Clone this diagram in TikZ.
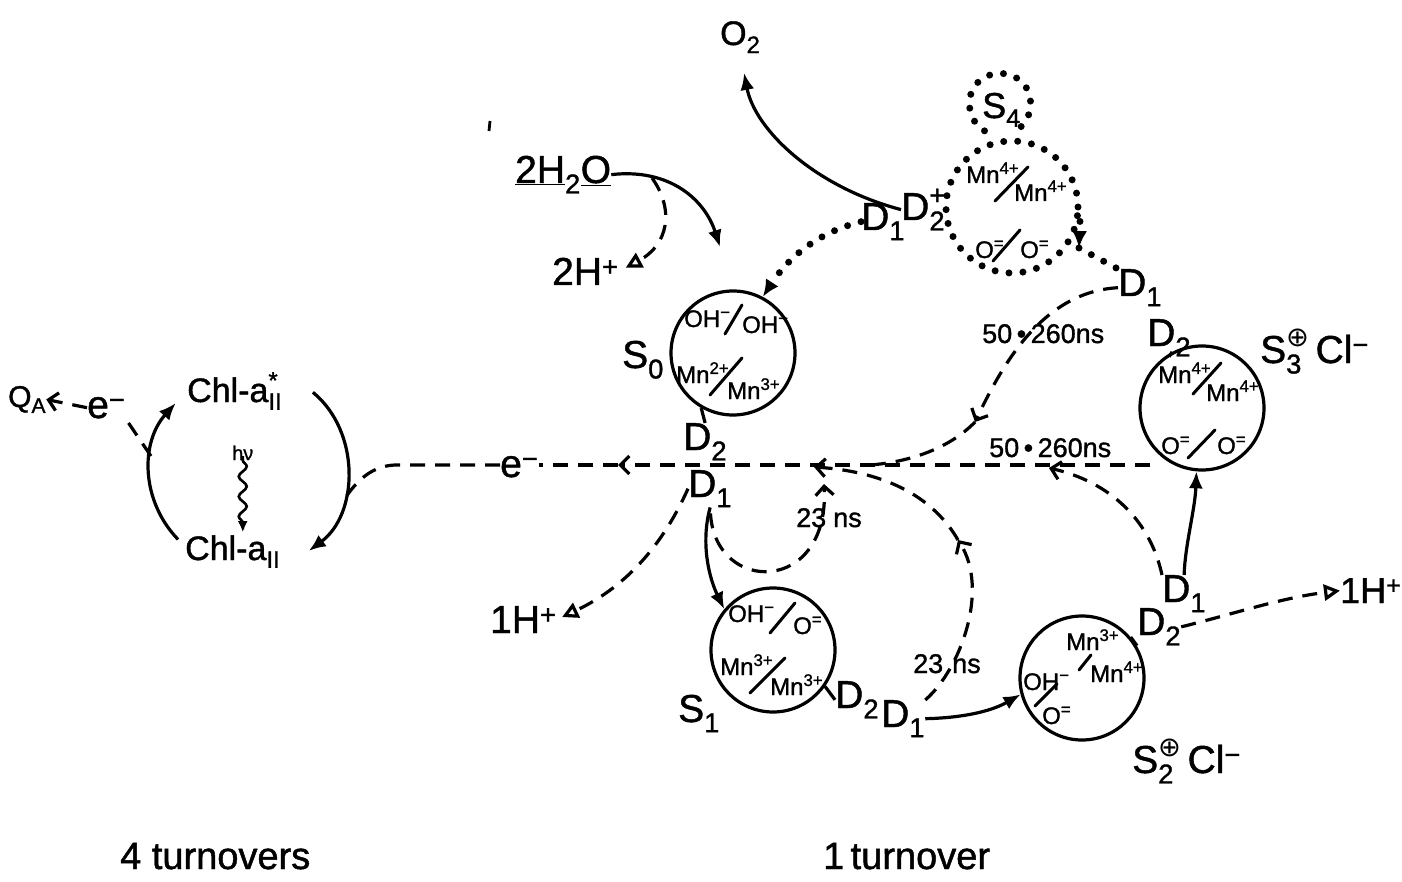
\documentclass[tikz,border=0pt]{standalone}
\usepackage{fontspec}
\setmainfont{Liberation Sans}[FakeBold=1.2]
\newfontfamily\djv{DejaVu Sans}
\usetikzlibrary{arrows.meta,decorations.pathmorphing}
\newcommand{\supsub}[2]{\makebox[0pt][l]{\textsubscript{#1}}\textsuperscript{#2}}
\begin{document}
\begin{tikzpicture}[x=1pt,y=-1pt,
 lab/.style={inner sep=0pt, anchor=base west, font=\fontsize{39}{42}\selectfont},
 chlf/.style={inner sep=0pt, anchor=base west, font=\fontsize{34}{36}\selectfont},
 inn/.style={inner sep=0pt, anchor=base west, font=\fontsize{24}{26}\selectfont},
 tim/.style={inner sep=0pt, anchor=base west, font=\fontsize{27}{29}\selectfont},
 ln/.style={line width=3.2pt},
 sol/.style={ln, -{Latex[length=17pt,width=14pt]}},
 dsh/.style={ln, dash pattern=on 15pt off 10pt},
 barb/.style={-{Straight Barb[length=9pt,width=18pt]}},
 opn/.style={-{Triangle[open,length=16pt,width=16pt]}},
 dotl/.style={line width=7pt, line cap=round, dash pattern=on 0pt off 14pt},
 st/.style={circle, draw, line width=3.2pt, minimum size=124pt, inner sep=0pt},
 sl/.style={line width=3pt, line cap=round},
]
\fill[white] (0,0) rectangle (1402,882);
\useasboundingbox (0,0) rectangle (1402,882);

% ---------- left: Chl cycle ----------
\node[circle, minimum size=200pt, inner sep=0pt, outer sep=0pt] (chl) at (250,470) {};
\node[lab, font=\fontsize{30}{32}\selectfont] (QA) at (8,407) {Q\textsubscript{A}};
\node[lab] (e1) at (87,418) {e\textsuperscript{−}};
\node[chlf] (chlt) at (187,402) {Chl-a\supsub{II}{\raisebox{0.35ex}{*}}};
\node[chlf] (chlb) at (185,560) {Chl-a\textsubscript{II}};
\node[inn, font=\fontsize{20}{22}\selectfont] (hv) at (232,460) {hν};
\draw[sol] (chl.224) to[bend left=43] (chl.138);
\draw[sol] (chl.51) to[bend left=52] (chl.-54);
\draw[ln, line width=2.6pt, decorate, decoration={snake, amplitude=4pt, segment length=20pt, post length=9pt},
      -{Latex[length=11pt,width=10pt]}, shorten <=4pt, shorten >=3pt] (hv.south) -- (hv.south |- chlb.north);
\draw[dsh, barb] (e1.west) -- (QA.east);
\draw[dsh] (chl.172) -- (e1.south east);

% ---------- states ----------
\node[st] (c0) at (733,353) {};
\node[st] (c1) at (773,650) {};
\node[st] (c2) at (1082,678) {};
\node[st] (c3) at (1202,408) {};
\node[circle, draw, dotl, minimum size=132pt, inner sep=0pt] (c4) at (1012,207) {};
\node[circle, minimum size=62pt, inner sep=0pt, outer sep=0pt] (s4) at (1000,104) {};
\draw[dotl] (s4.240) to[bend left=50] (s4.140) to[bend left=50] (s4.40) to[bend left=50] (s4.-60);

% state labels
\node[lab] (S0) at (622,368) {S\textsubscript{0}};
\node[lab] (S1) at (678,722) {S\textsubscript{1}};
\node[lab] (S2) at (1132,773) {S\supsub{2}{\raisebox{0.5ex}{\djv ⊕}}\hspace{6pt}Cl\textsuperscript{−}};
\node[lab] (S3) at (1260,363) {S\supsub{3}{\raisebox{0.5ex}{\djv ⊕}}\hspace{6pt}Cl\textsuperscript{−}};
\node[lab, font=\fontsize{36}{38}\selectfont] (S4) at (982,118) {S\textsubscript{\raisebox{0.4ex}{4}}};

% inner texts S0
\node[inn] (a01) at (684,327) {OH\textsuperscript{−}};
\node[inn] (a02) at (742,333) {OH\textsuperscript{−}};
\draw[sl] (725,334) -- (742,305);
\node[inn] (a03) at (676,383) {Mn\textsuperscript{2+}};
\node[inn] (a04) at (727,399) {Mn\textsuperscript{3+}};
\draw[sl] (710,395) -- (742,358);
% S1
\node[inn] (a11) at (728,622) {OH\textsuperscript{−}};
\node[inn] (a12) at (793,634) {O\textsuperscript{=}};
\draw[sl] (770,633) -- (795,603);
\node[inn] (a13) at (720,675) {Mn\textsuperscript{3+}};
\node[inn] (a14) at (770,695) {Mn\textsuperscript{3+}};
\draw[sl] (750,693) -- (785,658);
% S2
\node[inn] (a21) at (1066,650) {Mn\textsuperscript{3+}};
\node[inn] (a22) at (1090,682) {Mn\textsuperscript{4+}};
\draw[sl] (1079,670) -- (1091,655);
\node[inn] (a23) at (1023,690) {OH\textsuperscript{−}};
\node[inn] (a24) at (1042,724) {O\textsuperscript{=}};
\draw[sl] (1035,706) -- (1057,684);
% S3
\node[inn] (a31) at (1158,383) {Mn\textsuperscript{4+}};
\node[inn] (a32) at (1206,401) {Mn\textsuperscript{4+}};
\draw[sl] (1193,394) -- (1221,363);
\node[inn] (a33) at (1161,454) {O\textsuperscript{=}};
\node[inn] (a34) at (1217,454) {O\textsuperscript{=}};
\draw[sl] (1188,458) -- (1215,430);
% S4
\node[inn] (a41) at (966,183) {Mn\textsuperscript{4+}};
\node[inn] (a42) at (1014,201) {Mn\textsuperscript{4+}};
\draw[sl] (995,201) -- (1028,167);
\node[inn] (a43) at (975,258) {O\textsuperscript{=}};
\node[inn] (a44) at (1020,258) {O\textsuperscript{=}};
\draw[sl] (993,261) -- (1020,230);

% D labels
\node[lab] (D1a) at (861,230) {D\textsubscript{1}};
\node[lab] (D2a) at (901,220) {D\supsub{2}{\raisebox{0.45ex}{+}}};
\node[lab] (D2m) at (683,450) {D\textsubscript{2}};
\node[lab] (D1m) at (688,497) {D\textsubscript{1}};
\node[lab] (D1d) at (1118,296) {D\textsubscript{1}};
\node[lab] (D2d) at (1147,346) {D\textsubscript{2}};
\node[lab] (D2b) at (835,708) {D\textsubscript{2}};
\node[lab] (D1b) at (881,727) {D\textsubscript{1}};
\node[lab] (D1c) at (1162,602) {D\textsubscript{1}};
\node[lab] (D2c) at (1137,635) {D\textsubscript{2}};

% small ticks
\draw[ln] (c0.240) -- (D2m.north);
\draw[ln] (c3.118) -- (D2d.south);
\draw[ln] (c1.-35) -- (D2b.west);
\draw[ln] (c2.40) -- (D2c.south west);

% other labels
\node[lab, font=\fontsize{34}{36}\selectfont] (O2) at (720,45) {O\textsubscript{2}};
\node[lab] (w) at (515,183) {\underline{2H}\textsubscript{2}\underline{O}};
\node[lab] (Hp2) at (552,285) {2H\textsuperscript{+}};
\node[lab] (Hl) at (490,633) {1H\textsuperscript{+}};
\node[lab, font=\fontsize{36}{38}\selectfont] (Hr) at (1340,603) {1H\textsuperscript{+}};
\node[lab] (e2) at (500,477) {e\textsuperscript{−}};
\node[tim] (n1) at (982,343) {50\,•\,260ns};
\node[tim] (n2) at (989,457) {50\,•\,260ns};
\node[tim] (n3) at (796,527) {23\hspace{7pt}ns};
\node[tim] (n4) at (913,673) {23\hspace{9pt}ns};
\node[lab, font=\fontsize{38}{40}\selectfont] (tl) at (120,869) {4 turnovers};
\node[lab, font=\fontsize{38}{40}\selectfont] (tr) at (823,869) {1\,turnover};
\draw[line width=2.8pt] (490,121) -- (489,131);

% coordinates
\coordinate (wt) at (720,247);
\coordinate (wd) at (652,178);
\coordinate (hl) at (395,465);
\coordinate (hr) at (1150,465);
\coordinate (b0) at (618,465);
\coordinate (jA) at (870,465);
\coordinate (a1) at (975,422);
\coordinate (b1) at (1049,468);
\coordinate (c1m) at (958,540);
\coordinate (t2) at (814,467);
\coordinate (t1) at (824,484);
\coordinate (a4) at (1079,248);

% water
\draw[sol] (w.east) .. controls (670,168) and (705,200) .. (wt);
\draw[dsh, opn, shorten >=8pt] (wd) .. controls (675,210) and (668,245) .. (Hp2.east);

% O2 and dotted S4 paths
\draw[sol, shorten >=20pt] (D2a.west) .. controls (815,187) and (755,130) .. (O2.south);
\draw[dotl, -{Latex[length=17pt,width=15pt]}] (D1a.west) .. controls (820,232) and (790,255) .. (c0.62);
\draw[dotl, -{Latex[length=17pt,width=15pt]}] (c4.-12) -- (a4);
\draw[dotl] (a4) -- (D1d.north west);

% electron line
\draw[dsh, barb] (hr) -- (b0);
\draw[dsh] (b0) -- (e2.east |- hr);
\draw[dsh] (e2.west |- hl) -- (hl) .. controls (372,466) and (358,480) .. (chl.-15);

% transfers
\draw[dsh, barb] (D1d.west) .. controls (1040,292) and (1000,370) .. (a1);
\draw[dsh] (a1) .. controls (950,448) and (910,462) .. (jA);
\draw[dsh, barb] (D1c.north west) .. controls (1150,520) and (1110,482) .. (b1);
\draw[dsh, barb] (D1b.north east) .. controls (960,670) and (990,590) .. (c1m);
\draw[dsh, barb] (c1m) .. controls (935,500) and (890,472) .. (t2);
\draw[dsh, barb, shorten <=6pt] (D1m.south) .. controls (715,595) and (830,595) .. (t1);
\draw[dsh, opn, shorten >=6pt] (D1m.west) .. controls (665,540) and (630,585) .. (Hl.east);
\draw[sol] (D1m.south) .. controls (700,545) and (710,580) .. (c1.140);
\draw[sol] (D1b.east) .. controls (960,718) and (990,712) .. (c2.195);
\draw[sol] (D1c.north) .. controls (1185,545) and (1195,510) .. (c3.265);
\draw[dsh, opn] (D2c.east) .. controls (1230,615) and (1280,598) .. (Hr.west);
\end{tikzpicture}
\end{document}
